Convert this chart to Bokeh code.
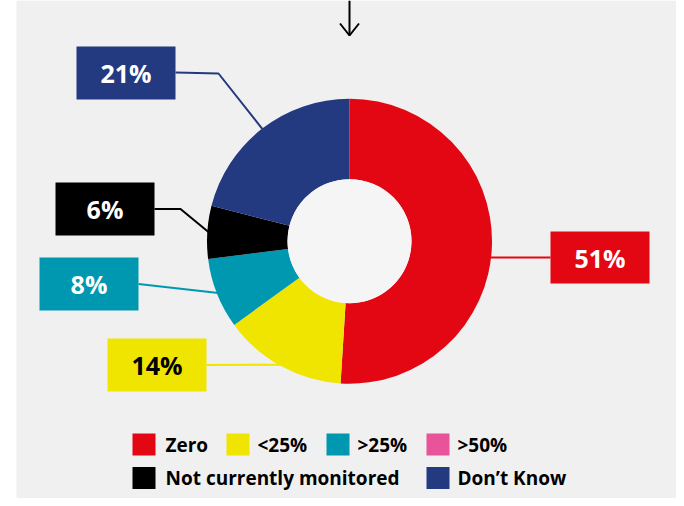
import numpy as np
from bokeh.plotting import figure
from bokeh.models import Range1d
from bokeh.core.properties import value
from bokeh.embed import file_html
from bokeh.resources import INLINE

# ---- data ----
categories = ["Zero", "<25%", ">25%", ">50%", "Not currently monitored", "Don\u2019t Know"]
shares = [51, 14, 8, 0, 6, 21]
colors = ["#e30613", "#f0e500", "#0097b1", "#e9539a", "#000000", "#233a80"]
label_text_colors = ["white", "black", "white", "white", "white", "white"]

# ---- layout (screen-like coordinates, converted below) ----
W, H = 676, 498
def Y(sy):
    return H - sy

p = figure(width=W, height=H, x_range=Range1d(0, W), y_range=Range1d(0, H),
           output_backend="svg", toolbar_location=None, min_border=0)
p.axis.visible = False
p.grid.visible = False
p.outline_line_color = None
p.background_fill_color = "white"
p.border_fill_color = "white"

# panel
p.quad(left=[16], right=[W], bottom=[Y(H)], top=[Y(0)], fill_color="#f0f0f0", line_color=None)

# arrow
p.line([349, 349], [Y(0), Y(35)], line_color="black", line_width=2)
p.line([339.5, 349, 358.5], [Y(23), Y(35), Y(23)], line_color="black", line_width=2)

# donut
cx, cy = 349, Y(240.7)
R_out, R_in = 142.5, 62
vals = np.array(shares, dtype=float)
frac = vals / vals.sum()
cum_end = np.cumsum(frac)
cum_start = cum_end - frac
start = np.pi / 2 - 2 * np.pi * cum_end
end = np.pi / 2 - 2 * np.pi * cum_start
mask = vals > 0
p.annular_wedge(x=cx, y=cy, inner_radius=R_in, outer_radius=R_out,
                start_angle=start[mask], end_angle=end[mask],
                fill_color=np.array(colors)[mask].tolist(), line_color=None)
p.circle(x=[cx], y=[cy], radius=R_in, fill_color="#f5f5f5", line_color=None)

mid = (cum_start + cum_end) / 2 * 2 * np.pi  # clockwise from top

def anchor(i):
    a = mid[i]
    return cx + (R_out - 1.5) * np.sin(a), cy + (R_out - 1.5) * np.cos(a)

# label boxes: index -> (left, top, right, bottom) in screen px
boxes = {
    5: (76, 46, 175, 99),
    4: (55, 182, 154, 235),
    2: (39, 257, 138, 310),
    1: (107, 338, 206, 391),
    0: (550, 231, 649, 283),
}

for i, (l, t, r, b) in boxes.items():
    col = colors[i]
    mx, my = (l + r) / 2, (t + b) / 2
    if i == 0:
        ly = Y(my)
        dy = ly - cy
        ax = cx + np.sqrt(R_out ** 2 - dy ** 2) - 1
        p.line([ax, l], [ly, ly], line_color=col, line_width=2)
    elif i == 5:
        ax, ay = anchor(i)
        p.line([r, 218, ax], [Y(my - 0.5), Y(my + 0.5), ay], line_color=col, line_width=2)
    elif i == 4:
        ax, ay = anchor(i)
        p.line([r, 180, ax], [Y(my), Y(my), ay], line_color=col, line_width=2)
    else:
        ax, ay = anchor(i)
        p.line([r, ax], [Y(my), ay], line_color=col, line_width=2)
    p.quad(left=[l], right=[r], top=[Y(t)], bottom=[Y(b)], fill_color=col, line_color=None)
    p.text(x=[mx], y=[Y(my)], text=[f"{shares[i]}%"], text_align="center",
           text_baseline="middle", text_font=value("Open Sans"), text_font_style="bold",
           text_font_size="25px", text_color=label_text_colors[i])

# legend
leg_sq_x = [132, 226, 326, 426, 132, 426]
leg_txt_x = [165, 257, 357, 457, 165, 457]
leg_y = [444, 444, 444, 444, 477.5, 477.5]
for i in range(len(categories)):
    p.quad(left=[leg_sq_x[i]], right=[leg_sq_x[i] + 23], top=[Y(leg_y[i] - 11)],
           bottom=[Y(leg_y[i] + 11)], fill_color=colors[i], line_color=None)
    p.text(x=[leg_txt_x[i]], y=[Y(leg_y[i])], text=[categories[i]], text_align="left",
           text_baseline="middle", text_font=value("Open Sans"), text_font_style="bold",
           text_font_size="19px", text_color="black")

open("out.html", "w").write(file_html(p, INLINE))
